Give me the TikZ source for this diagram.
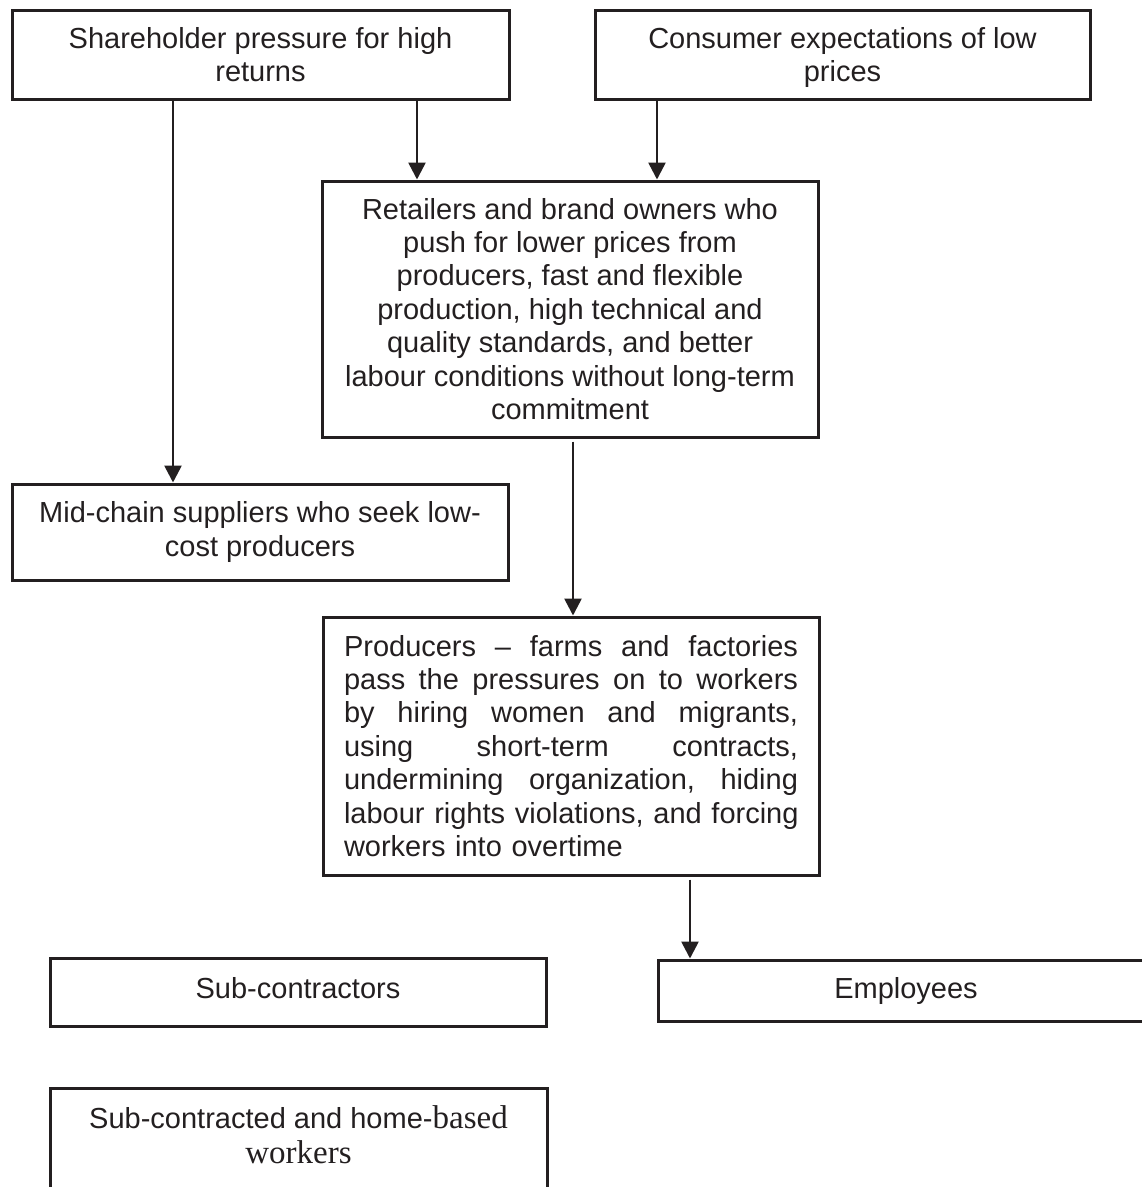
\documentclass[tikz,border=0pt]{standalone}
\usepackage{fontspec}
\setmainfont{Liberation Sans}
\newfontfamily\lserif{Liberation Serif}
\usetikzlibrary{arrows.meta}
\definecolor{ink}{RGB}{35,31,32}
\newcommand\nodp[1]{\raisebox{0pt}[\height][0pt]{#1}}
\newcommand\jline[1]{\leavevmode\hbox to 454pt{#1}}
\begin{document}
\begin{tikzpicture}[x=1pt,y=-1pt,
  box/.style={draw=ink, line width=3pt, rectangle, inner sep=0pt, text=ink,
    font=\fontsize{29}{33.4}\selectfont, align=center},
  txt/.style={inner sep=0pt, text=ink, font=\fontsize{29}{35}\selectfont, align=center},
  arr/.style={draw=ink, line width=2.6pt, -{Triangle[length=17pt,width=17pt]}}]
\useasboundingbox (0,0) rectangle (1142,1187);
\clip (0,0) rectangle (1142,1187);

\node[box, minimum width=497pt, minimum height=89pt] (sh) at (260.5,54.5)
  {Shareholder pressure for high\\returns};
\node[box, minimum width=495pt, minimum height=89pt] (con) at (842.5,54.5)
  {Consumer expectations of low\\\nodp{prices}};
\node[box, minimum width=496pt, minimum height=256pt] (ret) at (570,309)
  {Retailers and brand owners who\\push for lower prices from\\producers, fast and flexible\\production, high technical and\\quality standards, and better\\labour conditions without long-term\\commitment};
\node[box, minimum width=496pt, minimum height=96pt] (mid) at (260,532)
  {Mid-chain suppliers who seek low-\\cost producers};
\node[box, minimum width=496pt, minimum height=258pt, text width=454pt, align=left] (prod) at (571,746)
  {\jline{Producers \hfill – \hfill farms \hfill and \hfill factories}\\
   \jline{pass \hfill the \hfill pressures \hfill on \hfill to \hfill workers}\\
   \jline{by \hfill hiring \hfill women \hfill and \hfill migrants,}\\
   \jline{using \hfill short-term \hfill contracts,}\\
   \jline{undermining \hfill organization, \hfill hiding}\\
   \jline{labour \hfill rights \hfill violations, \hfill and \hfill forcing}\\
   workers into overtime};
\node[box, minimum width=496pt, minimum height=68pt] (subc) at (298,992)
  {\raisebox{0pt}[\height][8pt]{Sub-contractors}};
\node[box, minimum width=496pt, minimum height=61pt] (emp) at (906,990.5)
  {Employees};
\node[box, minimum width=497pt, minimum height=130pt] (sw) at (298.5,1153) {};
\node[txt] (swt) at (298.5,1134.5)
  {Sub-contracted and home-{\lserif\fontsize{33}{35}\selectfont based}\\{\lserif\fontsize{33}{35}\selectfont workers}};

\coordinate (c1) at (173,0);
\coordinate (c2) at (417,0);
\coordinate (c3) at (657,0);
\coordinate (c4) at (573,0);
\coordinate (c5) at (690,0);

\draw[arr] (sh.south -| c1) -- (mid.north -| c1);
\draw[arr] (sh.south -| c2) -- (ret.north -| c2);
\draw[arr] (con.south -| c3) -- (ret.north -| c3);
\draw[arr] ([yshift=-3pt]ret.south -| c4) -- (prod.north -| c4);
\draw[arr] ([yshift=-3pt]prod.south -| c5) -- (emp.north -| c5);
\end{tikzpicture}
\end{document}
